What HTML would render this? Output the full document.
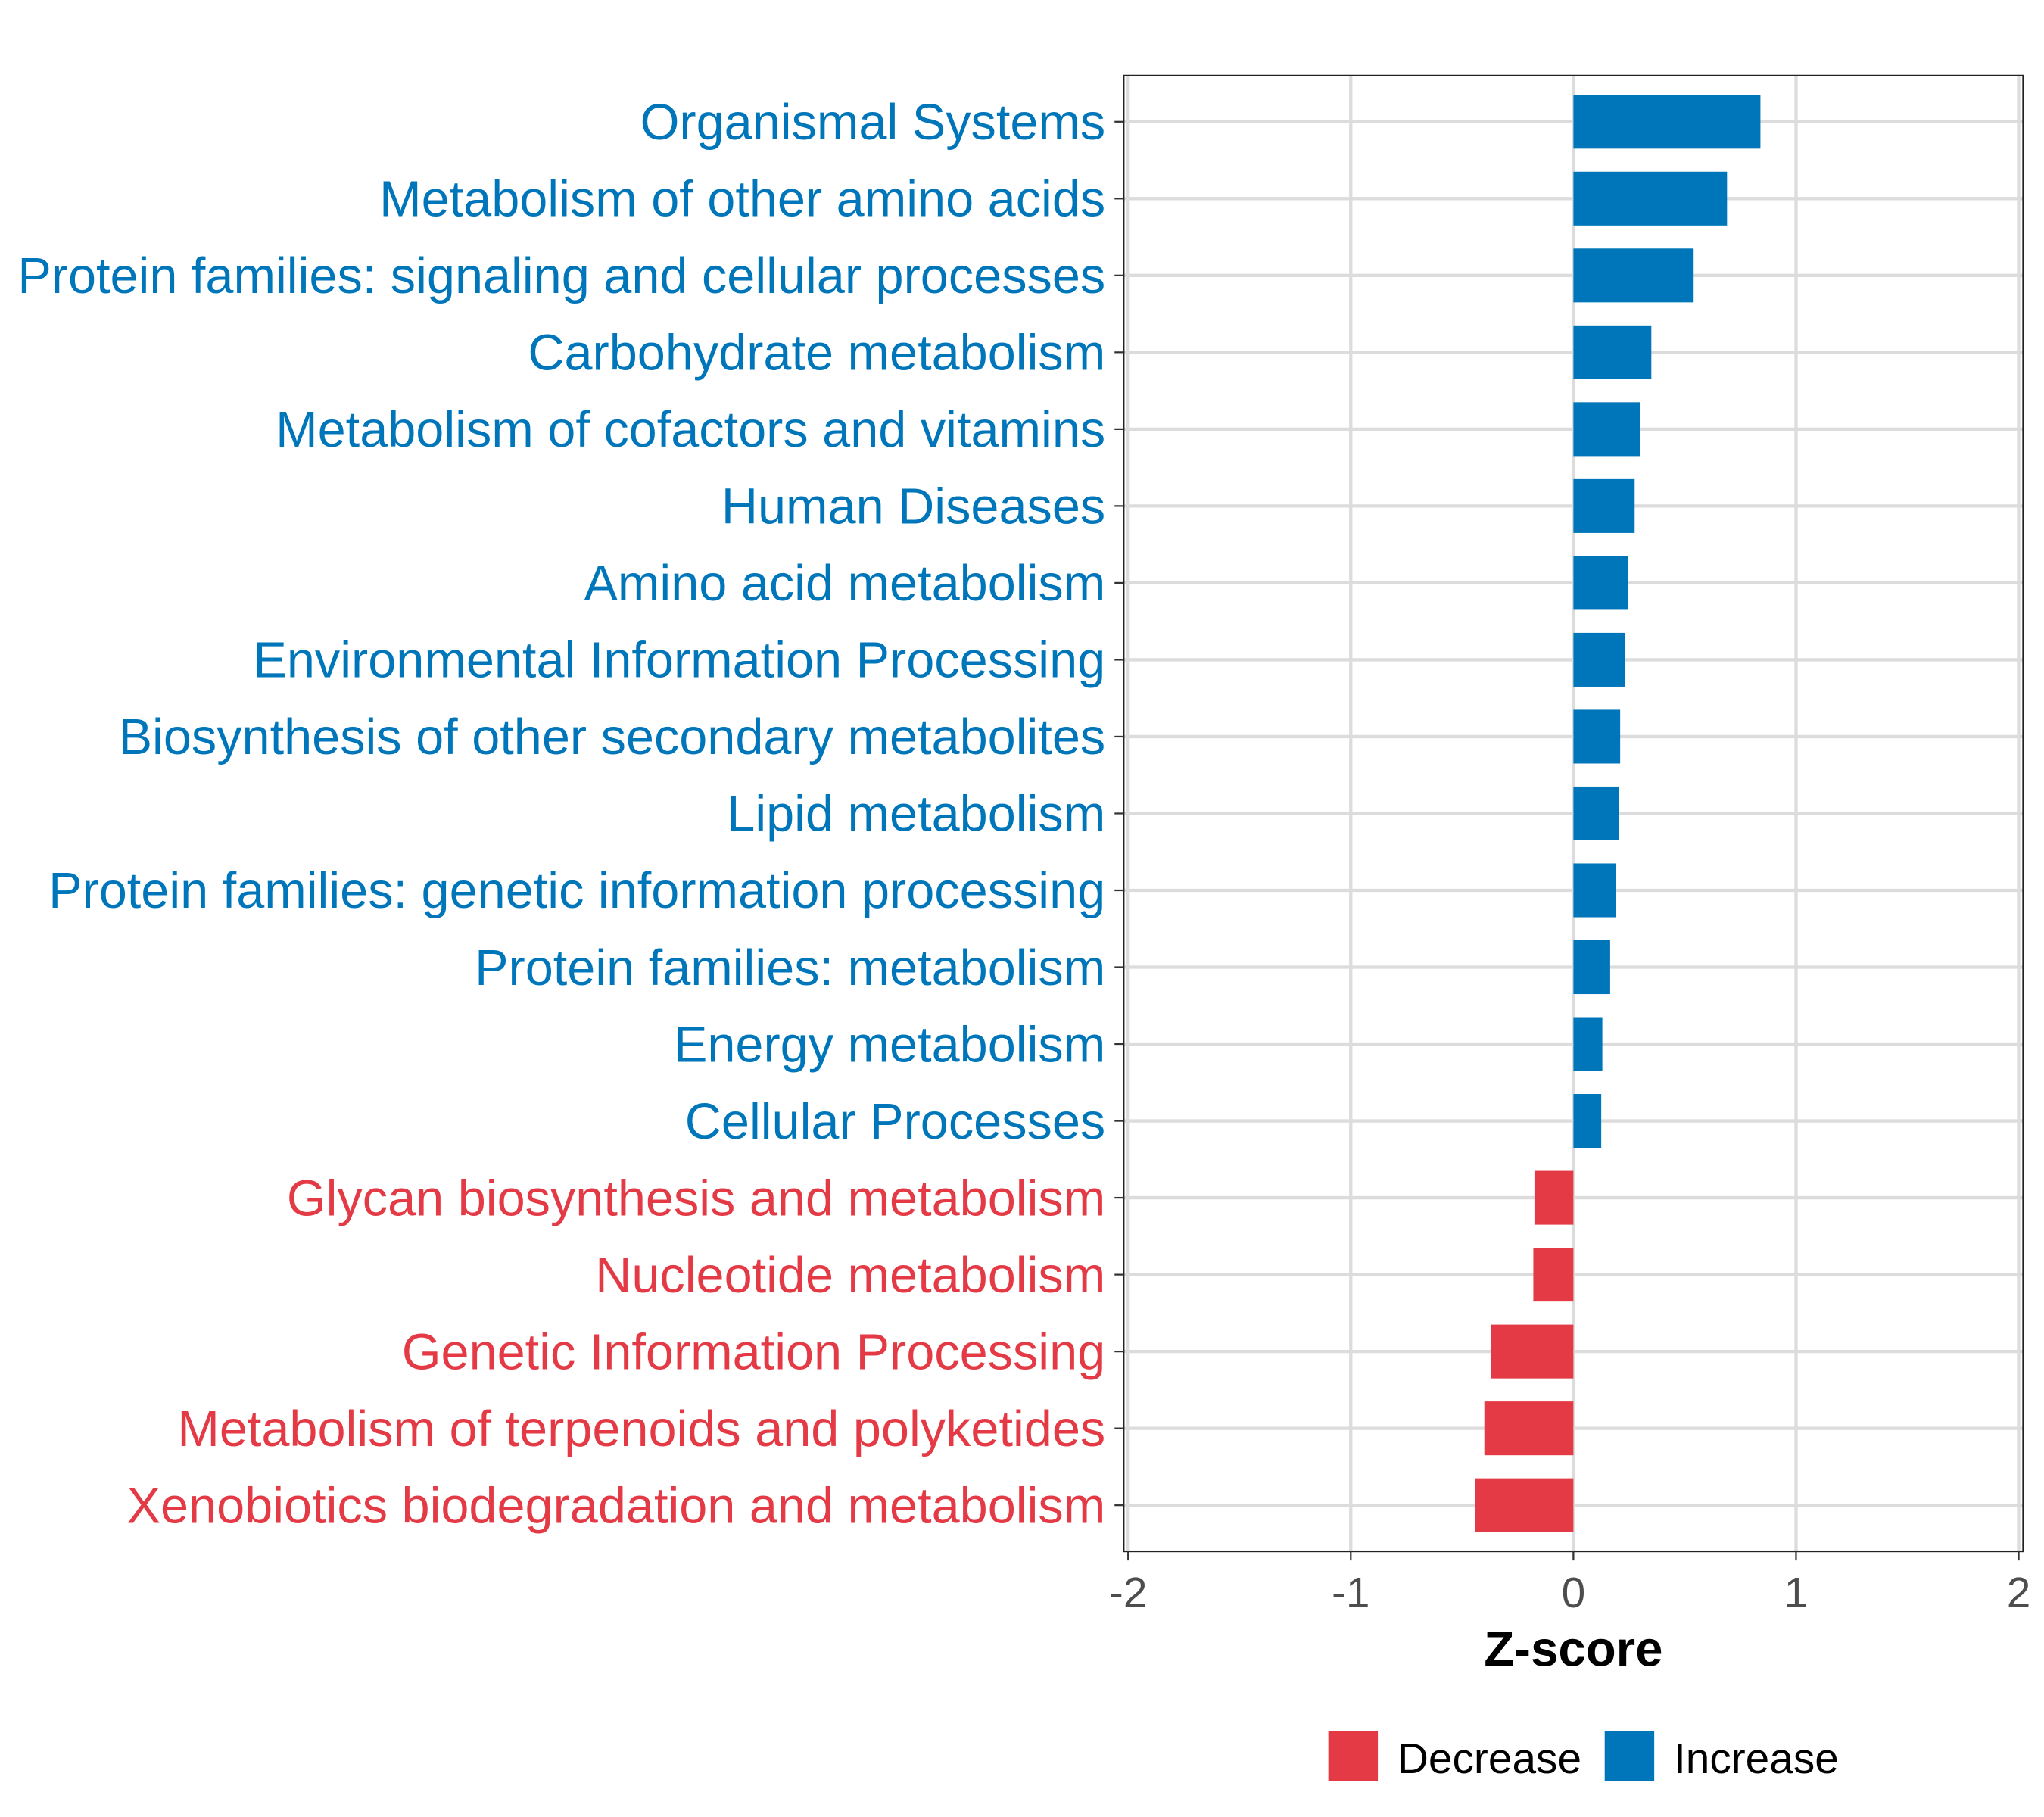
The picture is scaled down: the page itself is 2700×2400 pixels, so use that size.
<!DOCTYPE html>
<html><head><meta charset="utf-8"><style>
html,body{margin:0;padding:0;background:#fff;}
svg{display:block;}
text{font-family:"Liberation Sans",Arial,sans-serif;}
</style></head><body>
<svg id="chart" width="2700" height="2400" viewBox="0 0 1568 1393.8" preserveAspectRatio="none" xmlns="http://www.w3.org/2000/svg"></svg>
<script>
const categories = ["Organismal Systems","Metabolism of other amino acids","Protein families: signaling and cellular processes","Carbohydrate metabolism","Metabolism of cofactors and vitamins","Human Diseases","Amino acid metabolism","Environmental Information Processing","Biosynthesis of other secondary metabolites","Lipid metabolism","Protein families: genetic information processing","Protein families: metabolism","Energy metabolism","Cellular Processes","Glycan biosynthesis and metabolism","Nucleotide metabolism","Genetic Information Processing","Metabolism of terpenoids and polyketides","Xenobiotics biodegradation and metabolism"];
const zscores = [0.84,0.69,0.54,0.35,0.30,0.275,0.245,0.23,0.21,0.205,0.19,0.165,0.13,0.125,-0.175,-0.18,-0.37,-0.40,-0.44];
const xTicks = [-2,-1,0,1,2];
const xTickLabels = ["-2","-1","0","1","2"];
const legendLabels = ["Decrease","Increase"];

const NS="http://www.w3.org/2000/svg";
const svg=document.getElementById('chart');
const BLUE="#0076BA", RED="#E43A45";
const P={l:862,r:1552,t:58,b:1190};
const xMin=-2.02,xMax=2.02;
const xs=v=>P.l+(v-xMin)/(xMax-xMin)*(P.r-P.l);
const n=categories.length;
const step=(P.b-P.t)/(n+0.2);
const ys=i=>P.t+step*0.6+i*step;
function mk(tag,attrs,parent){const e=document.createElementNS(NS,tag);for(const k in attrs)e.setAttribute(k,attrs[k]);(parent||svg).appendChild(e);return e;}

const grid=mk('g',{});


xTicks.forEach(t=>{mk('line',{x1:xs(t),x2:xs(t),y1:P.t,y2:P.b,stroke:"#dcdcdc","stroke-width":2.5},grid);});
categories.forEach((c,i)=>{mk('line',{x1:P.l,x2:P.r,y1:ys(i),y2:ys(i),stroke:"#dcdcdc","stroke-width":2.5},grid);});

const bars=mk('g',{});


const bh=step*0.7;
zscores.forEach((v,i)=>{
  const x0=xs(0),x1=xs(v);
  const r=mk('rect',{x:Math.min(x0,x1),y:ys(i)-bh/2,width:Math.abs(x1-x0),height:bh,fill:v>=0?BLUE:RED},bars);
  
  
});

const border=mk('rect',{x:P.l,y:P.t,width:P.r-P.l,height:P.b-P.t,fill:"none",stroke:"#222","stroke-width":1.3});



const ylab=mk('g',{});


categories.forEach((c,i)=>{
  mk('line',{x1:P.l-7,x2:P.l,y1:ys(i),y2:ys(i),stroke:"#333","stroke-width":1.3},ylab);
  const t=mk('text',{x:848,y:ys(i)+13.5,"text-anchor":"end","font-size":38.7,fill:zscores[i]>=0?BLUE:RED},ylab);
  t.textContent=c;
  
  
});

const xax=mk('g',{});


xTicks.forEach((t,i)=>{
  mk('line',{x1:xs(t),x2:xs(t),y1:P.b,y2:P.b+7,stroke:"#333","stroke-width":1.3},xax);
  const tx=mk('text',{x:xs(t),y:1233,"text-anchor":"middle","font-size":33,fill:"#4d4d4d"},xax);
  tx.textContent=xTickLabels[i];
  
  
});
const xt=mk('text',{x:xs(0),y:1278,"text-anchor":"middle","font-size":38,"font-weight":"bold",fill:"#000"});
xt.textContent="Z-score";



const lg=mk('g',{});


const lx=[1019,1231],cols=[RED,BLUE];
legendLabels.forEach((l,i)=>{
  const e=mk('g',{},lg);
  
  
  mk('rect',{x:lx[i],y:1328,width:38,height:38,fill:cols[i]},e);
  const t=mk('text',{x:lx[i]+53,y:1360,"font-size":33,fill:"#000"},e);
  t.textContent=l;
});
</script>
</body></html>
